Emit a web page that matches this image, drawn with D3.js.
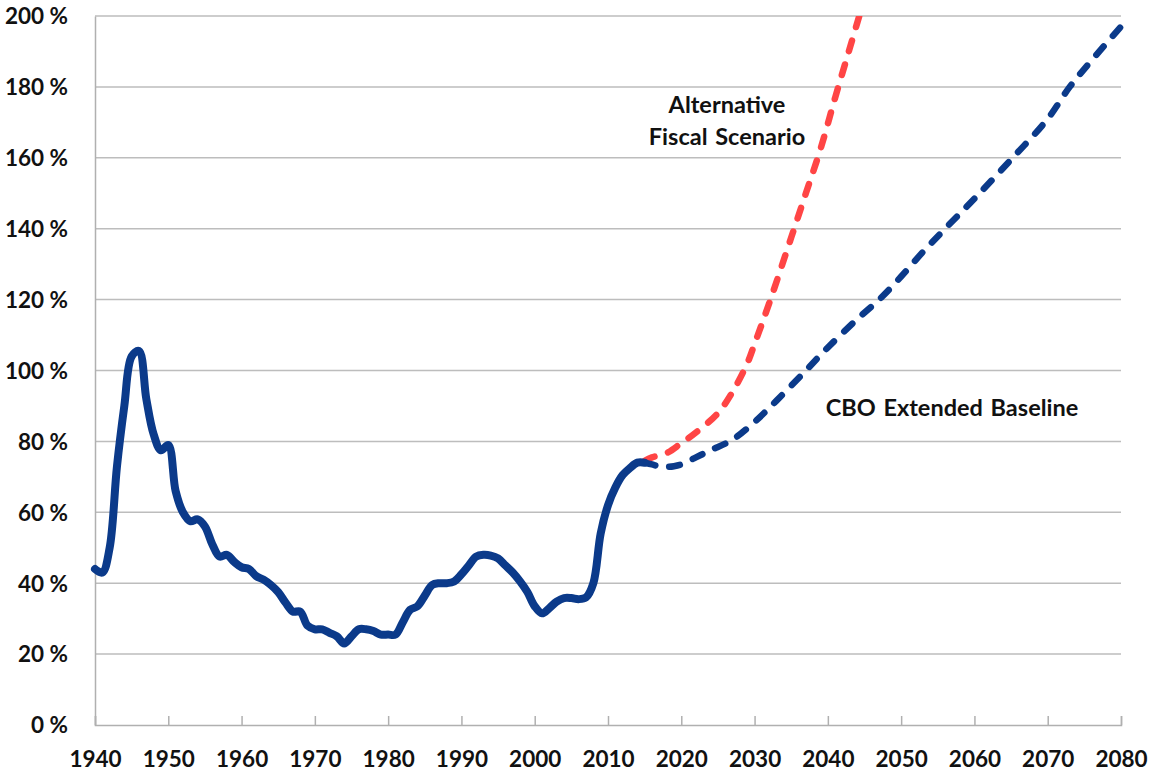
<!DOCTYPE html>
<html>
<head>
<meta charset="utf-8">
<script src="https://cdn.jsdelivr.net/npm/d3@7"></script>
<style>
  body { margin: 0; background: #fff; }
  svg text { font-family: Lato, "Open Sans", sans-serif; font-weight: bold; fill: #111; }
</style>
</head>
<body>
<svg id="chart" width="1150" height="771"></svg>
<script>
// Debt held by the public, % of GDP
var histYears = [1940, 1941, 1942, 1943, 1944, 1945, 1946, 1947, 1948, 1949,
    1950, 1951, 1952, 1953, 1954, 1955, 1956, 1957, 1958, 1959,
    1960, 1961, 1962, 1963, 1964, 1965, 1966, 1967, 1968, 1969,
    1970, 1971, 1972, 1973, 1974, 1975, 1976, 1977, 1978, 1979,
    1980, 1981, 1982, 1983, 1984, 1985, 1986, 1987, 1988, 1989,
    1990, 1991, 1992, 1993, 1994, 1995, 1996, 1997, 1998, 1999,
    2000, 2001, 2002, 2003, 2004, 2005, 2006, 2007, 2008, 2009,
    2010, 2011, 2012, 2013, 2014, 2015];
var histValues = [44, 43, 50, 73, 90, 104, 105.5, 92, 82, 77.5,
    79, 66, 60, 57.5, 58, 56, 51, 47.5, 48, 46,
    44.5, 44, 42, 41, 39.5, 37.5, 34.5, 32, 32, 28,
    27, 27, 26, 25, 23, 25, 27, 27, 26.5, 25.5,
    25.5, 25.5, 29, 32.5, 33.5, 36.5, 39.5, 40, 40, 40.5,
    42.5, 45, 47.5, 48, 47.8, 47, 45, 43, 40.5, 37.5,
    33.5, 31.5, 33, 34.8, 35.8, 35.8, 35.5, 36, 40, 54,
    62, 67, 70.5, 72.5, 74, 74];

var baseYears = [2015, 2016, 2017, 2018, 2019, 2020, 2022, 2024, 2027, 2030,
    2033, 2037, 2040, 2044, 2047, 2050, 2053, 2056, 2060, 2065,
    2070, 2073, 2076, 2080];
var baseValues = [74, 73.5, 73, 72.8, 73, 73.5, 75.5, 77.5, 80.5, 85.5,
    91.5, 100, 106.5, 114.5, 120, 126.5, 133.5, 140, 148.5, 159.5,
    171, 180, 187.5, 197];

var altYears = [2015, 2016, 2018, 2020, 2022, 2025, 2027, 2029, 2030, 2032,
    2035, 2037, 2039, 2041, 2043, 2045];
var altValues = [74.5, 75.5, 76.7, 79.5, 82.5, 88, 94, 102, 107.5, 119,
    137.5, 150, 162.5, 177, 191, 205];

var xTicks = d3.range(1940, 2081, 10);
var yTicks = d3.range(0, 201, 20);

function drawChart() {
    var svg = d3.select("#chart");
    var plotLeft = 95, plotRight = 1121, plotTop = 16, plotBottom = 725;

    var x = d3.scaleLinear().domain([1940, 2080]).range([plotLeft, plotRight]);
    var y = d3.scaleLinear().domain([0, 200]).range([plotBottom, plotTop]);

    svg.append("defs").append("clipPath").attr("id", "plot")
        .append("rect")
        .attr("x", plotLeft - 10).attr("y", plotTop)
        .attr("width", plotRight - plotLeft + 20).attr("height", plotBottom - plotTop);

    // horizontal grid lines
    svg.append("g").selectAll("line").data(yTicks.slice(1)).enter().append("line")
        .attr("x1", plotLeft).attr("x2", plotRight)
        .attr("y1", function(d) { return y(d); })
        .attr("y2", function(d) { return y(d); })
        .attr("stroke", "#bdbdbd").attr("stroke-width", 1.5);

    // y axis: line only, labels with " %"
    var yAxis = d3.axisLeft(y).tickValues(yTicks).tickSize(0).tickPadding(27)
        .tickFormat(function(d) { return d + " %"; });
    var gy = svg.append("g").attr("transform", "translate(" + plotLeft + ",0)").call(yAxis);
    gy.select(".domain").attr("stroke", "#b0b0b0").attr("stroke-width", 1.5);
    gy.selectAll("text").attr("font-size", 22.5).attr("dy", "0.35em");

    // x axis: small ticks pointing up into the plot
    var xAxis = d3.axisBottom(x).tickValues(xTicks).tickSize(-9).tickPadding(0)
        .tickFormat(d3.format("d"));
    var gx = svg.append("g").attr("transform", "translate(0," + plotBottom + ")").call(xAxis);
    gx.select(".domain").attr("stroke", "#b0b0b0").attr("stroke-width", 1.5);
    gx.selectAll(".tick line").attr("stroke", "#b0b0b0").attr("stroke-width", 1.5);
    gx.selectAll("text").attr("font-size", 22.5).attr("y", 42).attr("dy", 0);

    var line = d3.line()
        .x(function(d) { return x(d[0]); })
        .y(function(d) { return y(d[1]); })
        .curve(d3.curveCatmullRom.alpha(0.5));

    var plot = svg.append("g").attr("clip-path", "url(#plot)");

    plot.append("path")
        .datum(d3.zip(altYears, altValues))
        .attr("d", line)
        .attr("fill", "none").attr("stroke", "#ff4545").attr("stroke-width", 6.5)
        .attr("stroke-linecap", "round").attr("stroke-dasharray", "11,14");

    plot.append("path")
        .datum(d3.zip(baseYears, baseValues))
        .attr("d", line)
        .attr("fill", "none").attr("stroke", "#0b3a8a").attr("stroke-width", 6.5)
        .attr("stroke-linecap", "round").attr("stroke-dasharray", "11,14");

    plot.append("path")
        .datum(d3.zip(histYears, histValues))
        .attr("d", line)
        .attr("fill", "none").attr("stroke", "#0b3a8a").attr("stroke-width", 8)
        .attr("stroke-linejoin", "round").attr("stroke-linecap", "round");

    // series labels
    svg.append("text").attr("x", 727).attr("y", 113).attr("text-anchor", "middle")
        .attr("font-size", 23.5).text("Alternative");
    svg.append("text").attr("x", 727).attr("y", 145).attr("text-anchor", "middle")
        .attr("font-size", 23.5).attr("word-spacing", 2).text("Fiscal Scenario");
    svg.append("text").attr("x", 952).attr("y", 416).attr("text-anchor", "middle")
        .attr("font-size", 23.5).attr("word-spacing", 2).text("CBO Extended Baseline");
}

drawChart();
</script>
</body>
</html>
